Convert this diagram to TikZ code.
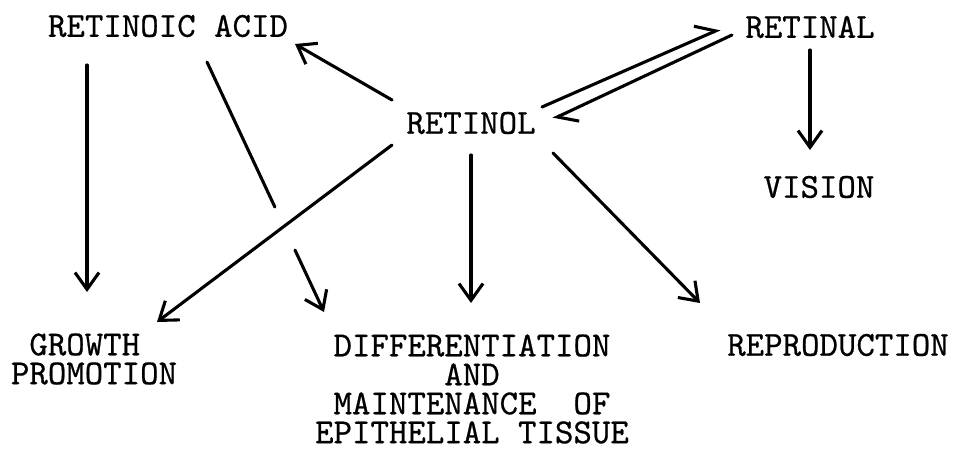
\documentclass[tikz,border=0pt]{standalone}
\usepackage{fontspec}
\setmonofont{lmmono10-regular.otf}[FakeBold=0.6]
\usetikzlibrary{arrows.meta,calc}

\begin{document}
\begin{tikzpicture}[x=0.025cm, y=-0.025cm,
  every node/.style={font=\ttfamily\fontsize{25}{20.6}\selectfont, inner sep=0pt},
  link/.style={line width=2.2pt, line cap=round},
  arr/.style={link, -{Straight Barb[length=0.42cm, width=0.6cm]}},
  harp/.style={link, -{Straight Barb[left, length=0.45cm, width=0.65cm]}}]
  \useasboundingbox (0,0) rectangle (953,449);

  % Composes du haut
  \node (acid) at (168,26) {RETINOIC ACID};
  \node (retinal) at (810,27) {RETINAL};
  \node (retinol) at (471,123) {RETINOL};
  \node (vision) at (819,187) {VISION};

  % Fonctions (en bas)
  \node[align=left] (growth) at (94,359) {\hphantom{P}GROWTH\\PROMOTION};
  \node[align=center] (diff) at (472,389) {DIFFERENTIATION\\AND\\MAINTENANCE\ \ OF\\EPITHELIAL TISSUE};
  \node (repro) at (838,345) {REPRODUCTION};

  % Fleches
  \draw[arr] ([shift={(-81,39)}]acid.center) -- ([shift={(-7,-67)}]growth.center);
  \draw[arr] ([shift={(-79,-23)}]retinol.center) -- ([shift={(127,18)}]acid.center);
  \draw[arr] ([shift={(-79,22)}]retinol.center) -- ([shift={(63,-37)}]growth.center);
  \draw[arr] ([shift={(0,32)}]retinol.center) -- ([shift={(-1,-86)}]diff.center);
  \draw[arr] ([shift={(82,30)}]retinol.center) -- ([shift={(-138,-42)}]repro.center);
  \draw[arr] ([shift={(0,23)}]retinal.center) -- ([shift={(-9,-37)}]vision.center);

  % Equilibre retinol / retinal
  \draw[harp] ([shift={(71,-16)}]retinol.center) -- ([shift={(-90,2)}]retinal.center);
  \draw[harp] ([shift={(-78,8)}]retinal.center) -- ([shift={(82,-4)}]retinol.center);

  % Acide -> differenciation, interrompue au croisement
  \coordinate (a1) at ([shift={(39,36)}]acid.center);
  \coordinate (a2) at ([shift={(-148,-77)}]diff.center);
  \draw[link] (a1) -- ($(a1)!0.58!(a2)$);
  \draw[arr] ($(a1)!0.752!(a2)$) -- (a2);
\end{tikzpicture}
\end{document}
